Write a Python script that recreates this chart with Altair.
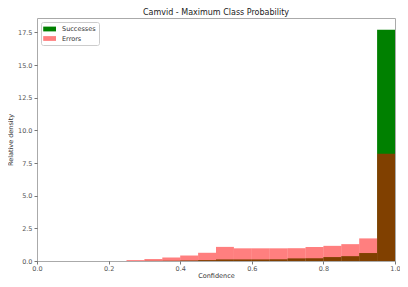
import altair as alt
import pandas as pd

bin_start = [0.00, 0.05, 0.10, 0.15, 0.20, 0.25, 0.30, 0.35, 0.40, 0.45,
             0.50, 0.55, 0.60, 0.65, 0.70, 0.75, 0.80, 0.85, 0.90, 0.95]
bin_width = 0.05
successes = [0, 0, 0, 0, 0, 0, 0.01, 0.02, 0.04, 0.07,
             0.12, 0.12, 0.12, 0.13, 0.20, 0.21, 0.30, 0.37, 0.61, 17.7]
errors = [0, 0, 0, 0, 0, 0.07, 0.15, 0.26, 0.42, 0.63,
          1.08, 0.97, 0.97, 0.97, 0.98, 1.07, 1.16, 1.29, 1.73, 8.2]
series = ["Successes", "Errors"]
colors = ["#008000", "#ff0000"]
opacities = [1.0, 0.5]

rows = []
for k, (name, vals) in enumerate(zip(series, [successes, errors])):
    for b, v in zip(bin_start, vals):
        rows.append({"series": name, "k": k, "x0": b, "x1": round(b + bin_width, 2), "density": v})
df = pd.DataFrame(rows)

font = "DejaVu Sans"
rect_path = "M-1.2,-0.6H2.0V0.6H-1.2Z"

chart = alt.Chart(df).mark_rect(strokeWidth=0).encode(
    x=alt.X("x0:Q", scale=alt.Scale(domain=[0, 1], nice=False, zero=False),
            axis=alt.Axis(title="Confidence", values=[0, 0.2, 0.4, 0.6, 0.8, 1.0], format=".1f",
                          titlePadding=1, labelPadding=1, labelFlush=False)),
    x2="x1:Q",
    y=alt.Y("density:Q", scale=alt.Scale(domain=[0, 18.6], nice=False),
            axis=alt.Axis(title="Relative density", values=[0, 2.5, 5, 7.5, 10, 12.5, 15, 17.5],
                          format=".1f", titlePadding=4, labelPadding=2)),
    y2=alt.datum(0),
    color=alt.Color("series:N", scale=alt.Scale(domain=series, range=colors),
                    legend=alt.Legend(title=None, orient="top-left", offset=4)),
    opacity=alt.Opacity("series:N", scale=alt.Scale(domain=series, range=opacities),
                        legend=alt.Legend(title=None, orient="top-left", offset=4)),
    order=alt.Order("k:Q"),
).properties(
    width=358, height=243,
    title=alt.TitleParams("Camvid - Maximum Class Probability", fontSize=8, font=font,
                          fontWeight="normal", color="#222", offset=1),
    autosize=alt.AutoSizeParams(type="none"),
    padding={"left": 29, "top": 10, "right": 5, "bottom": 18},
).configure_view(
    stroke="#aaaaaa", strokeWidth=1
).configure_axis(
    grid=False, domain=False, tickSize=3, tickColor="#555", tickWidth=0.8,
    labelFont=font, labelFontSize=6.5, labelColor="#555",
    titleFont=font, titleFontSize=6.5, titleColor="#333", titleFontWeight="normal",
).configure_legend(
    labelFont=font, labelFontSize=6.5, labelColor="#333",
    symbolType=rect_path, symbolSize=64, symbolStrokeWidth=0,
    strokeColor="#cccccc", fillColor="white", padding=3, cornerRadius=2,
    rowPadding=1.5, labelOffset=10,
)

chart.save("out.html", embed_options={"renderer": "svg", "actions": False})
